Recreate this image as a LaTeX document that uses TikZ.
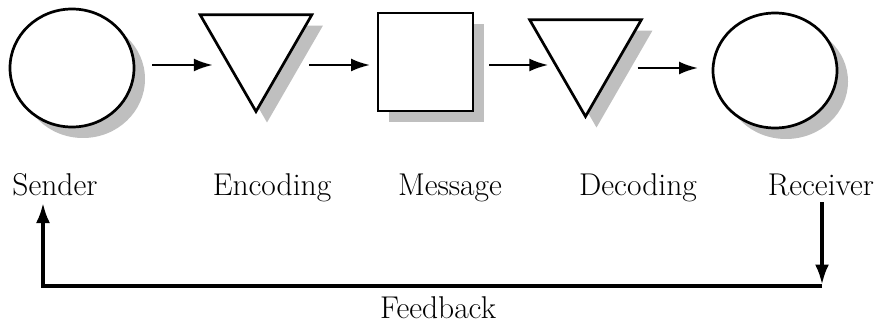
\documentclass[tikz,border=0pt]{standalone}
\usepackage{fontspec}
\usetikzlibrary{positioning, shapes.geometric, shadows, arrows.meta, calc}

\begin{document}
\begin{tikzpicture}[x=1pt, y=-1pt,
		dropped/.style={drop shadow={shadow xshift=11pt, shadow yshift=-11pt, fill=black!25, opacity=1}},
		blob/.style={ellipse, draw, line width=2.7pt, fill=white, inner sep=0pt, outer sep=0pt, dropped},
		coder/.style={regular polygon, regular polygon sides=3, shape border rotate=180, minimum size=129pt, draw, line width=2.7pt, fill=white, inner sep=0pt, outer sep=0pt, dropped},
		msgbox/.style={rectangle, draw, line width=2.7pt, fill=white, minimum width=95pt, minimum height=98pt, inner sep=0pt, outer sep=0pt, dropped},
		flow/.style={line width=2.3pt, -{Latex[length=19pt, width=13pt]}},
		fbarrow/.style={line width=3.2pt, -{Latex[length=20pt, width=14pt]}},
		word/.style={anchor=base, font=\fontsize{31.5}{38}\selectfont}]
		\useasboundingbox (0,0) rectangle (883,326);
		% the five stages
		\node[blob, minimum width=124pt, minimum height=118pt] (sender) at (72,68) {};
		\node[coder] (encoding) at (256,47) {};
		\node[msgbox] (message) at (425.5,62) {};
		\node[coder] (decoding) at (585.5,52) {};
		\node[blob, minimum width=124pt, minimum height=115pt] (receiver) at (775,70.5) {};
		% arrows between them
		\draw[flow, shorten <=18pt, shorten >=6pt] ([yshift=3pt]sender.east) -- ([yshift=3pt]sender.east -| encoding.west);
		\draw[flow, shorten <=16pt, shorten >=8pt] ([yshift=-3pt]message.west -| encoding.east) -- ([yshift=-3pt]message.west);
		\draw[flow, shorten <=16pt] ([yshift=-3pt]message.east) -- ([yshift=-3pt]message.east -| decoding.west);
		\draw[flow, shorten <=15pt, shorten >=15pt] ([yshift=2.5pt]receiver.west -| decoding.east) -- ([yshift=2.5pt]receiver.west);
		% labels
		\node[word] (senderlabel) at (55,195) {Sender};
		\node[word] (encodinglabel) at (272,195) {Encoding};
		\node[word] (messagelabel) at (450,195) {Message};
		\node[word] (decodinglabel) at (638,195) {Decoding};
		\node[word] (receiverlabel) at (821,195) {Receiver};
		% feedback loop
		\coordinate (fbR) at (822,286);
		\coordinate (fbL) at (43,286);
		\draw[fbarrow, shorten <=3pt, shorten >=1.5pt] (receiverlabel.south -| fbR) -- (fbR);
		\draw[fbarrow, shorten >=4pt] (fbR) -- (fbL) -- (senderlabel.south -| fbL);
		\node[word] (feedback) at (438,318) {Feedback};
	\end{tikzpicture}
\end{document}
